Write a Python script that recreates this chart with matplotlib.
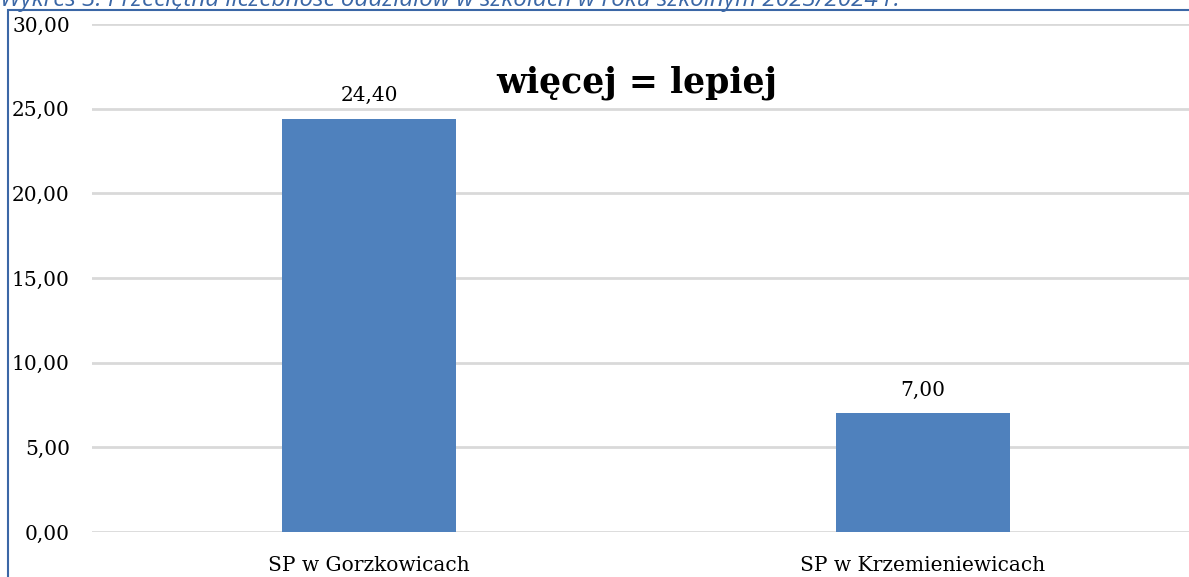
import matplotlib.pyplot as plt
from matplotlib.patches import Rectangle
from matplotlib.ticker import FuncFormatter

# -----------------------------------------------------------------------------
# data

schools = ['SP w Gorzkowicach', 'SP w Krzemieniewicach']
avg_class_size = [24.40, 7.00]
yticks = [0, 5, 10, 15, 20, 25, 30]

title = 'Wykres 3. Przeciętna liczebność oddziałów w szkołach w roku szkolnym 2023/2024 r.'
note = 'więcej = lepiej'

# -----------------------------------------------------------------------------
# plot

W, H = 1189, 577
fig = plt.figure(figsize=(W / 100, H / 100), dpi=100)

# plot area runs past the right edge (the source image is cropped there)
x0, x1 = 92, 1200
y0, y1 = 532, 24
ax = fig.add_axes([x0 / W, 1 - y0 / H, (x1 - x0) / W, (y0 - y1) / H])

bar_color = '#4F81BD'
serif = ['DejaVu Serif']

ax.bar(range(len(schools)), avg_class_size, width=0.314, color=bar_color, zorder=3)
ax.set_xlim(-0.5, len(schools) - 0.5)
ax.set_ylim(0, 30)
ax.set_yticks(yticks)
ax.yaxis.set_major_formatter(FuncFormatter(lambda v, p: f'{v:.2f}'.replace('.', ',')))
ax.set_xticks(range(len(schools)))
ax.set_xticklabels(schools)

for s in ax.spines.values():
    s.set_visible(False)
ax.grid(axis='y', color='#D9D9D9', linewidth=2, zorder=0)
ax.tick_params(axis='both', length=0, labelsize=14.5)
ax.tick_params(axis='y', pad=16)
ax.tick_params(axis='x', pad=17)
for lab in ax.get_xticklabels() + ax.get_yticklabels():
    lab.set_fontfamily(serif)

for i, v in enumerate(avg_class_size):
    ax.annotate(f'{v:.2f}'.replace('.', ','), (i, v), xytext=(0, 10),
                textcoords='offset points', ha='center', va='bottom',
                fontsize=14.5, family=serif)

ax.text(0.492, 0.885, note, transform=ax.transAxes, ha='center', va='center',
        fontsize=25, fontweight='bold', family=serif)

# frame of the original document figure
fig.patches.append(Rectangle((8 / W, -0.1), 2, 1 - 10 / H + 0.1,
                             transform=fig.transFigure, fill=False,
                             edgecolor='#3B67A6', linewidth=1.5))

fig.text(0, 1 - 6 / H, title, ha='left', va='baseline', fontsize=17.5,
         style='italic', color='#3B67A6', family=['Open Sans', 'DejaVu Sans'])

fig.savefig('out.png', dpi=100)
